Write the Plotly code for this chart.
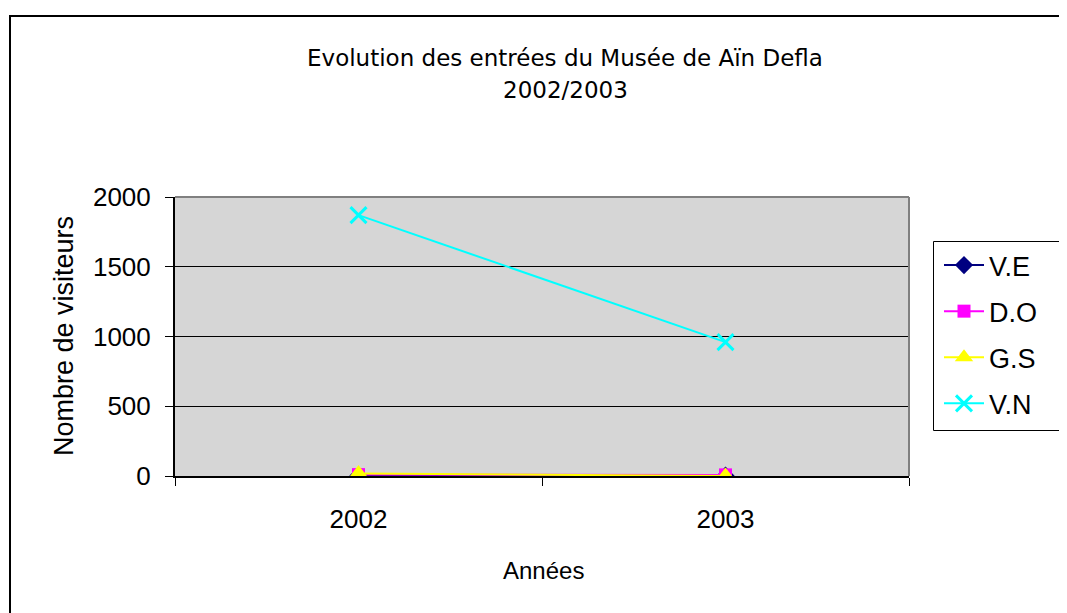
import plotly.graph_objects as go

years = ["2002", "2003"]
series_names = ["V.E", "D.O", "G.S", "V.N"]
ve = [3, 2]
do = [10, 8]
gs = [18, 0]
vn = [1870, 960]
y_ticks = [0, 500, 1000, 1500, 2000]

OFF = 8  # default page body margin
W, H = 1067 - OFF, 613 - OFF
# plot area in screen pixels
L, R, T, B = 175, 909, 197, 476
pw, ph = R - L, B - T

def px(x):
    return (x - L) / pw

def py(y):
    return (B - y) / ph

styles = [
    dict(color="#000080", symbol="diamond", size=14),
    dict(color="#FF00FF", symbol="square", size=13),
    dict(color="#FFFF00", symbol="triangle-up", size=17),
    dict(color="#00FFFF", symbol="x-thin-open", size=16),
]
values = [ve, do, gs, vn]

fig = go.Figure()
for i, (name, vals, st) in enumerate(zip(series_names, values, styles)):
    marker = dict(color=st["color"], symbol=st["symbol"], size=st["size"])
    if st["symbol"] == "x-thin-open":
        marker["line"] = dict(color=st["color"], width=3)
    fig.add_trace(go.Scatter(
        x=years, y=vals, name=name, mode="lines+markers",
        line=dict(color=st["color"], width=2), marker=marker,
        legendgroup=name,
    ))

font_main = "Liberation Sans, Arial, sans-serif"

fig.update_layout(
    width=W, height=H,
    margin=dict(l=L - OFF, r=W - (R - OFF), t=T - OFF, b=H - (B - OFF), autoexpand=False),
    paper_bgcolor="white",
    plot_bgcolor="#D6D6D6",
    showlegend=True,
    legend=dict(
        x=px(933), y=py(241), xanchor="left", yanchor="top",
        borderwidth=0, bgcolor="rgba(0,0,0,0)",
        font=dict(family=font_main, size=27, color="black"),
        tracegroupgap=8, itemwidth=40, indentation=6,
    ),
    xaxis=dict(
        type="category", tickson="boundaries", range=[-0.5, 1.5],
        showline=True, linecolor="black", linewidth=2,
        ticks="outside", ticklen=8, tickcolor="black", tickwidth=1,
        showgrid=False, zeroline=False,
        tickfont=dict(family=font_main, size=26, color="black"),
        ticklabelstandoff=19,
    ),
    yaxis=dict(
        range=[0, 2000], tickvals=y_ticks,
        showline=True, linecolor="black", linewidth=2,
        ticks="outside", ticklen=8, tickcolor="black", tickwidth=1,
        showgrid=True, gridcolor="black", gridwidth=1, zeroline=False,
        tickfont=dict(family=font_main, size=26, color="black"),
        ticklabelstandoff=9,
    ),
    shapes=[
        dict(type="line", xref="paper", yref="paper", x0=0, x1=1, y0=1, y1=1,
             line=dict(color="#808080", width=2), layer="above"),
        dict(type="line", xref="paper", yref="paper", x0=1, x1=1, y0=0, y1=1,
             line=dict(color="#808080", width=2), layer="above"),
        dict(type="rect", xref="paper", yref="paper",
             x0=px(10), x1=px(1100), y0=py(16), y1=py(650),
             line=dict(color="black", width=2), layer="below"),
        # legend box (extends beyond the right edge like the reference)
        dict(type="rect", xref="paper", yref="paper",
             x0=px(933.5), x1=px(1100), y0=py(241.5), y1=py(430.5),
             line=dict(color="black", width=1), layer="below"),
    ],
    annotations=[
        dict(text="Evolution des entrées du Musée de Aïn Defla", x=px(565), y=py(58),
             xref="paper", yref="paper", showarrow=False, xanchor="center", yanchor="middle",
             font=dict(family="DejaVu Sans", size=23, color="black")),
        dict(text="2002/2003", x=px(565), y=py(90),
             xref="paper", yref="paper", showarrow=False, xanchor="center", yanchor="middle",
             font=dict(family="DejaVu Sans", size=23, color="black")),
        dict(text="Nombre de visiteurs", x=px(64), y=py(336), textangle=-90,
             xref="paper", yref="paper", showarrow=False, xanchor="center", yanchor="middle",
             font=dict(family=font_main, size=27, color="black")),
        dict(text="Années", x=px(543), y=py(570),
             xref="paper", yref="paper", showarrow=False, xanchor="center", yanchor="middle",
             font=dict(family=font_main, size=24, color="black")),
    ],
)

fig.write_html("out.html")
